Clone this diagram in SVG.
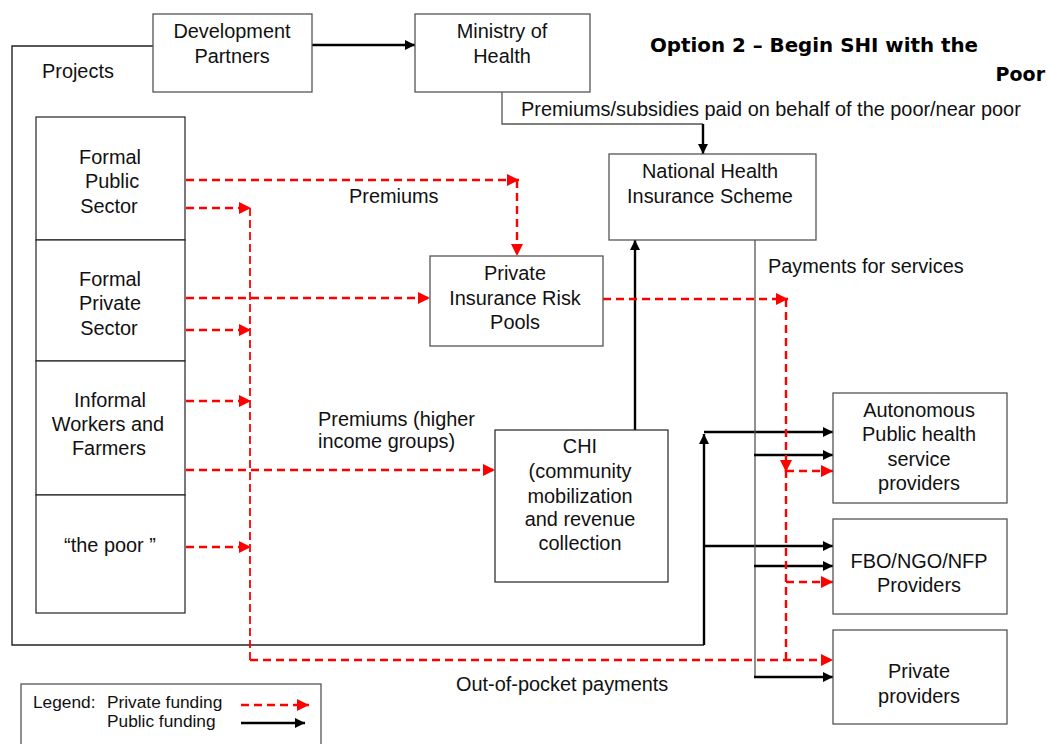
<svg xmlns="http://www.w3.org/2000/svg" width="1047" height="744" viewBox="0 0 1047 744">
  <style>
    .t { font-family: "Liberation Sans", Arial, sans-serif; font-size: 19.9px; fill: #111; }
    .c { text-anchor: middle; }
    .lg { font-size: 17.3px; }
    .title { font-family: "DejaVu Sans", "Liberation Sans", sans-serif; font-weight: bold; font-size: 19px; fill: #000; }
    .box { fill: #fff; stroke: #555; stroke-width: 1.3; }
    .col { fill: #fff; stroke: #222; stroke-width: 1.2; }
    .priv { fill: none; stroke: #ff0000; stroke-width: 2.4; stroke-dasharray: 8 5; }
    .privThin { fill: none; stroke: #ff0000; stroke-width: 1.8; stroke-dasharray: 8 4; }
    .pub { fill: none; stroke: #000; stroke-width: 2.4; }
    .thin { fill: none; stroke: #222; stroke-width: 1.4; }
    .grey { fill: none; stroke: #555; stroke-width: 1.3; }
  </style>
  <defs>
    <marker id="redHead" markerUnits="userSpaceOnUse" markerWidth="13" markerHeight="12" refX="12" refY="6" orient="auto">
      <path d="M0,0 L12,6 L0,12 Z" fill="#ff0000"/>
    </marker>
    <marker id="blackHead" markerUnits="userSpaceOnUse" markerWidth="11" markerHeight="10" refX="10" refY="5" orient="auto">
      <path d="M0,0 L10,5 L0,10 Z" fill="#000"/>
    </marker>
  </defs>

  <rect width="1047" height="744" fill="#fff"/>

  <!-- title -->
  <text class="title" x="650" y="52" textLength="328" lengthAdjust="spacingAndGlyphs">Option 2  – Begin SHI with the</text>
  <text class="title" x="1045" y="81" text-anchor="end">Poor</text>

  <!-- free labels -->
  <text class="t" x="42" y="78">Projects</text>
  <text class="t" x="349" y="203">Premiums</text>
  <text class="t" x="521" y="116">Premiums/subsidies paid on behalf of the poor/near poor</text>
  <text class="t" x="768" y="273">Payments for services</text>
  <text class="t" x="318" y="426">Premiums (higher</text>
  <text class="t" x="318" y="448">income groups)</text>
  <text class="t" x="456" y="691">Out-of-pocket payments</text>

  <g id="connectors">
    <!-- public funding (black) -->
    <line class="pub" x1="312" y1="45" x2="415" y2="45" marker-end="url(#blackHead)"/>
    <path class="grey" d="M502,92 V124 H703"/>
    <line class="pub" x1="703" y1="124" x2="703" y2="154" marker-end="url(#blackHead)"/>
    <path class="thin" d="M153,46 H12 V645 H704"/>
    <line class="pub" x1="704" y1="645" x2="704" y2="434" marker-end="url(#blackHead)"/>
    <line class="pub" x1="704" y1="432" x2="833" y2="432" marker-end="url(#blackHead)"/>
    <line class="pub" x1="704" y1="546" x2="833" y2="546" marker-end="url(#blackHead)"/>
    <line class="pub" x1="635" y1="430" x2="635" y2="240" marker-end="url(#blackHead)"/>
    <path class="grey" d="M755,240 V677"/>
    <line class="pub" x1="754" y1="455" x2="833" y2="455" marker-end="url(#blackHead)"/>
    <line class="pub" x1="754" y1="566" x2="833" y2="566" marker-end="url(#blackHead)"/>
    <line class="pub" x1="754" y1="677" x2="833" y2="677" marker-end="url(#blackHead)"/>

    <!-- private funding (red dashed) -->
    <line class="priv" x1="186" y1="180" x2="519" y2="180" marker-end="url(#redHead)"/>
    <line class="priv" x1="517" y1="180" x2="517" y2="256" marker-end="url(#redHead)"/>
    <line class="priv" x1="186" y1="208" x2="251" y2="208" marker-end="url(#redHead)"/>
    <line class="priv" x1="186" y1="298" x2="430" y2="298" marker-end="url(#redHead)"/>
    <line class="priv" x1="186" y1="330" x2="251" y2="330" marker-end="url(#redHead)"/>
    <line class="priv" x1="186" y1="401" x2="251" y2="401" marker-end="url(#redHead)"/>
    <line class="priv" x1="186" y1="470" x2="495" y2="470" marker-end="url(#redHead)"/>
    <line class="priv" x1="186" y1="547" x2="251" y2="547" marker-end="url(#redHead)"/>
    <path class="privThin" d="M250,208 V660"/>
    <line class="priv" x1="250" y1="660" x2="833" y2="660" marker-end="url(#redHead)"/>
    <line class="priv" x1="603" y1="299" x2="788" y2="299" marker-end="url(#redHead)"/>
    <line class="priv" x1="786" y1="299" x2="786" y2="472" marker-end="url(#redHead)"/>
    <path class="priv" d="M786,470 V660"/>
    <line class="priv" x1="786" y1="471" x2="833" y2="471" marker-end="url(#redHead)"/>
    <line class="priv" x1="786" y1="582" x2="833" y2="582" marker-end="url(#redHead)"/>
  </g>

  <g id="development-partners">
    <rect class="box" x="153" y="14" width="159" height="78"/>
    <text class="t c" x="232" y="38">Development</text>
    <text class="t c" x="232" y="63">Partners</text>
  </g>

  <g id="ministry-of-health">
    <rect class="box" x="415" y="14" width="175" height="78"/>
    <text class="t c" x="502" y="38">Ministry of</text>
    <text class="t c" x="502" y="63">Health</text>
  </g>

  <g id="nhis">
    <rect class="box" x="609" y="154" width="207" height="86"/>
    <text class="t c" x="710" y="178">National Health</text>
    <text class="t c" x="710" y="203">Insurance Scheme</text>
  </g>

  <g id="private-insurance">
    <rect class="box" x="430" y="256" width="173" height="90"/>
    <text class="t c" x="515" y="280">Private</text>
    <text class="t c" x="515" y="305">Insurance Risk</text>
    <text class="t c" x="515" y="329">Pools</text>
  </g>

  <g id="chi">
    <rect class="col" x="495" y="430" width="173" height="152"/>
    <text class="t c" x="580" y="453">CHI</text>
    <text class="t c" x="580" y="478">(community</text>
    <text class="t c" x="580" y="503">mobilization</text>
    <text class="t c" x="580" y="526">and revenue</text>
    <text class="t c" x="580" y="550">collection</text>
  </g>

  <g id="formal-public">
    <rect class="col" x="36" y="117" width="149" height="123"/>
    <text class="t c" x="110" y="164">Formal</text>
    <text class="t c" x="112" y="188">Public</text>
    <text class="t c" x="109" y="213">Sector</text>
  </g>

  <g id="formal-private">
    <rect class="col" x="36" y="240" width="149" height="121"/>
    <text class="t c" x="110" y="286">Formal</text>
    <text class="t c" x="110" y="310">Private</text>
    <text class="t c" x="109" y="335">Sector</text>
  </g>

  <g id="informal-workers">
    <rect class="col" x="36" y="361" width="149" height="134"/>
    <text class="t c" x="110" y="407">Informal</text>
    <text class="t c" x="108" y="431">Workers and</text>
    <text class="t c" x="109" y="455">Farmers</text>
  </g>

  <g id="the-poor">
    <rect class="col" x="36" y="495" width="149" height="118"/>
    <text class="t c" x="110" y="552">“the poor ”</text>
  </g>

  <g id="autonomous-public">
    <rect class="box" x="833" y="393" width="174" height="110"/>
    <text class="t c" x="919" y="417">Autonomous</text>
    <text class="t c" x="919" y="441">Public health</text>
    <text class="t c" x="919" y="466">service</text>
    <text class="t c" x="919" y="490">providers</text>
  </g>

  <g id="fbo-ngo-nfp">
    <rect class="box" x="833" y="519" width="174" height="95"/>
    <text class="t c" x="919" y="568">FBO/NGO/NFP</text>
    <text class="t c" x="919" y="592">Providers</text>
  </g>

  <g id="private-providers">
    <rect class="box" x="833" y="630" width="174" height="94"/>
    <text class="t c" x="919" y="678">Private</text>
    <text class="t c" x="919" y="703">providers</text>
  </g>

  <g id="legend">
    <rect class="box" x="21" y="684" width="300" height="70"/>
    <text class="t lg" x="33" y="708">Legend:</text>
    <text class="t lg" x="107" y="708">Private funding</text>
    <text class="t lg" x="107" y="727">Public funding</text>
    <line class="priv" x1="241" y1="705" x2="309" y2="705" marker-end="url(#redHead)"/>
    <line class="pub" x1="241" y1="723" x2="305" y2="723" marker-end="url(#blackHead)"/>
  </g>
</svg>
